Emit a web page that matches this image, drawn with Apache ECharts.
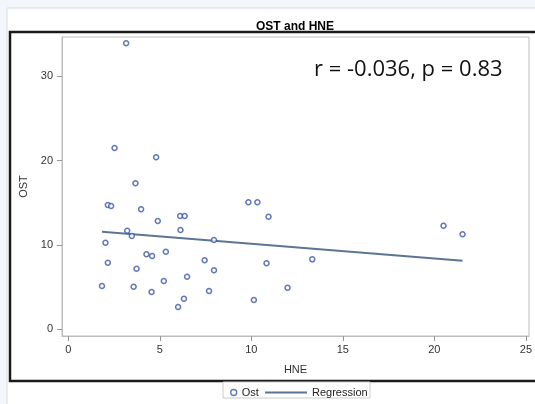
<!DOCTYPE html>
<html>
<head>
<meta charset="utf-8">
<script src="https://cdn.jsdelivr.net/npm/echarts@6/dist/echarts.min.js"></script>
<style>
  html, body { margin: 0; padding: 0; }
  #main { width: 535px; height: 404px; }
</style>
</head>
<body>
<div id="main"></div>
<script>
// HNE (x) and OST (y)
var hne = [3.16, 2.53, 4.80, 3.67, 2.16, 2.34, 3.98, 4.89, 6.11, 6.36,
           6.13, 3.22, 3.47, 2.03, 4.27, 4.58, 5.33, 2.16, 3.73, 7.45,
           7.96, 1.84, 3.57, 5.22, 6.49, 4.55, 7.69, 6.32, 6.00, 9.84,
           10.33, 10.94, 7.96, 10.83, 13.33, 10.14, 11.98, 20.50, 21.54];
var ost = [33.89, 21.48, 20.38, 17.30, 14.73, 14.61, 14.22, 12.83, 13.42, 13.42,
           11.77, 11.68, 11.05, 10.26, 8.89, 8.68, 9.19, 7.89, 7.18, 8.18,
           6.99, 5.13, 5.05, 5.72, 6.23, 4.42, 4.54, 3.63, 2.64, 15.05,
           15.05, 13.34, 10.58, 7.82, 8.29, 3.47, 4.93, 12.27, 11.26];
// regression line end points
var regX = [1.84, 21.54];
var regY = [11.56, 8.13];
var xTicks = [0, 5, 10, 15, 20, 25];
var yTicks = [0, 10, 20, 30];
var statText = 'r = -0.036, p = 0.83';

var pts = hne.map(function (v, i) { return [v, ost[i]]; });
var reg = regX.map(function (v, i) { return [v, regY[i]]; });

var chart = echarts.init(document.getElementById('main'));
var font = 'Liberation Sans, Arial, sans-serif';

var option = {
    backgroundColor: '#f3f7fb',
    animation: false,
    title: {
        text: 'OST and HNE',
        left: 290,
        top: 16,
        textAlign: 'center',
        textStyle: { fontFamily: font, fontSize: 12, fontWeight: 'bold', color: '#000' }
    },
    graphic: [
        { type: 'rect', z: -10, shape: { x: 7, y: 8, width: 540, height: 400 },
          style: { fill: '#fff', stroke: '#d5dde6', lineWidth: 1 } },
        { type: 'rect', z: -5, shape: { x: 10, y: 32, width: 540, height: 349 },
          style: { fill: '#fff', stroke: '#1a1a1a', lineWidth: 2.5 } },
        { type: 'rect', z: -1, shape: { x: 223, y: 382, width: 147, height: 16 },
          style: { fill: '#fff', stroke: '#cccccc', lineWidth: 1 } },
        { type: 'text', left: 314, top: 59, z: 10,
          style: { text: statText, font: '22px "Open Sans", sans-serif', fill: '#111' } }
    ],
    grid: {
        left: 62, top: 37, right: 5, bottom: 68,
        show: true, borderColor: '#bdbdbd', borderWidth: 1, backgroundColor: '#fff'
    },
    xAxis: {
        type: 'value',
        min: -0.343, max: 25.17,
        name: 'HNE', nameLocation: 'middle', nameGap: 28,
        nameTextStyle: { fontFamily: font, fontSize: 11, color: '#333' },
        axisLine: { show: true, onZero: false, lineStyle: { color: '#bdbdbd' } },
        axisTick: { show: true, customValues: xTicks, length: 5, lineStyle: { color: '#999' } },
        axisLabel: { customValues: xTicks, fontFamily: font, fontSize: 11, color: '#333', margin: 8 },
        splitLine: { show: false }
    },
    yAxis: {
        type: 'value',
        min: -0.79, max: 34.63,
        name: 'OST', nameLocation: 'middle', nameGap: 33,
        nameTextStyle: { fontFamily: font, fontSize: 11, color: '#333' },
        axisLine: { show: true, onZero: false, lineStyle: { color: '#bdbdbd' } },
        axisTick: { show: true, customValues: yTicks, length: 5, lineStyle: { color: '#999' } },
        axisLabel: { customValues: yTicks, fontFamily: font, fontSize: 11, color: '#333', margin: 9 },
        splitLine: { show: false }
    },
    legend: [
        { data: ['Ost'], left: 230, top: 387, itemWidth: 6, itemHeight: 6, padding: 0,
          itemStyle: { borderWidth: 1.4 },
          textStyle: { fontFamily: font, fontSize: 11, color: '#222' } },
        { data: ['Regression'], left: 265, top: 387, itemWidth: 42, itemHeight: 2, padding: 0,
          icon: 'rect', itemGap: 6,
          textStyle: { fontFamily: font, fontSize: 11, color: '#222' } }
    ],
    series: [
        {
            name: 'Ost',
            type: 'scatter',
            data: pts,
            symbol: 'circle',
            symbolSize: 5,
            itemStyle: { color: '#fff', borderColor: '#3a56a8', borderWidth: 1.5 },
            z: 3
        },
        {
            name: 'Regression',
            type: 'line',
            data: reg,
            symbol: 'none',
            showSymbol: false,
            lineStyle: { color: '#5d7594', width: 2 },
            itemStyle: { color: '#5d7594' },
            z: 2
        }
    ]
};

chart.setOption(option);
</script>
</body>
</html>
